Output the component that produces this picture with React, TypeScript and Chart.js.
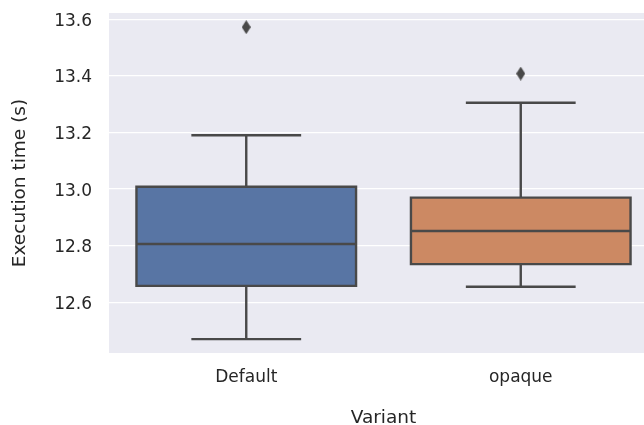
import React, { useEffect, useRef } from "react";
import { Chart, registerables } from "chart.js";

Chart.register(...registerables);

const variants = ["Default", "opaque"];
const whiskerLow = [12.47, 12.655];
const q1 = [12.658, 12.735];
const median = [12.806, 12.852];
const q3 = [13.008, 12.97];
const whiskerHigh = [13.19, 13.305];
const outliers = [
  { variant: 0, value: 13.572 },
  { variant: 1, value: 13.408 },
];
const yTicks = [12.6, 12.8, 13.0, 13.2, 13.4, 13.6];

const BOX_COLORS = ["#5875a4", "#cc8963"];
const LINE_COLOR = "#494949";
const LINE_WIDTH = 2.4;
const BOX_HALF = 0.4;
const CAP_HALF = 0.2;
const FONT = "'DejaVu Sans', sans-serif";
const TEXT = "#262626";

function makeDiamond(): HTMLCanvasElement {
  const c = document.createElement("canvas");
  c.width = 9;
  c.height = 14;
  const ctx = c.getContext("2d")!;
  ctx.fillStyle = LINE_COLOR;
  ctx.beginPath();
  ctx.moveTo(4.5, 0);
  ctx.lineTo(9, 7);
  ctx.lineTo(4.5, 14);
  ctx.lineTo(0, 7);
  ctx.closePath();
  ctx.fill();
  return c;
}

const bgPlugin = {
  id: "bg",
  beforeDraw(chart: any) {
    const { ctx, chartArea } = chart;
    ctx.save();
    ctx.fillStyle = "#eaeaf2";
    ctx.fillRect(chartArea.left, chartArea.top, chartArea.right - chartArea.left, chartArea.bottom - chartArea.top);
    ctx.restore();
  },
};

export default function App() {
  const ref = useRef<HTMLCanvasElement>(null);
  useEffect(() => {
    document.body.style.margin = "0";
    const lineData = (i: number) => {
      const c = i;
      const gap = { x: c, y: null };
      return [
        { x: c, y: whiskerLow[i] }, { x: c, y: q1[i] }, gap,
        { x: c, y: q3[i] }, { x: c, y: whiskerHigh[i] }, gap,
        { x: c - CAP_HALF, y: whiskerLow[i] }, { x: c + CAP_HALF, y: whiskerLow[i] }, gap,
        { x: c - CAP_HALF, y: whiskerHigh[i] }, { x: c + CAP_HALF, y: whiskerHigh[i] }, gap,
        { x: c - BOX_HALF, y: median[i] }, { x: c + BOX_HALF, y: median[i] }, gap,
        { x: c - BOX_HALF, y: q1[i] }, { x: c + BOX_HALF, y: q1[i] },
        { x: c + BOX_HALF, y: q3[i] }, { x: c - BOX_HALF, y: q3[i] },
        { x: c - BOX_HALF, y: q1[i] }, { x: c + BOX_HALF, y: q1[i] },
      ];
    };
    const diamond = makeDiamond();
    const chart = new Chart(ref.current!, {
      type: "bar",
      data: {
        datasets: [
          {
            type: "bar",
            data: variants.map((_, i) => ({ x: i, y: [q1[i], q3[i]] })) as any,
            backgroundColor: BOX_COLORS,
            borderWidth: 0,
            categoryPercentage: 1,
            barPercentage: 2 * BOX_HALF,
            order: 3,
          } as any,
          ...variants.map((_, i) => ({
            type: "line",
            data: lineData(i),
            borderColor: LINE_COLOR,
            borderWidth: LINE_WIDTH,
            borderJoinStyle: "miter",
            pointRadius: 0,
            spanGaps: false,
            fill: false,
            order: 2,
          })) as any,
          {
            type: "line",
            data: outliers.map((o) => ({ x: o.variant, y: o.value })),
            showLine: false,
            pointStyle: diamond,
            pointRadius: 5,
            order: 1,
          } as any,
        ],
      },
      options: {
        responsive: false,
        animation: false,
        layout: { padding: { top: 13, right: 2, left: 0, bottom: 0 } },
        plugins: { legend: { display: false }, tooltip: { enabled: false } },
        scales: {
          x: {
            type: "linear",
            min: -0.5,
            max: 1.5,
            offset: false,
            grid: { display: false, drawTicks: false },
            border: { display: false },
            afterBuildTicks: (s: any) => {
              s.ticks = variants.map((_, i) => ({ value: i }));
            },
            afterFit: (s: any) => {
              s.height = 72;
              s.paddingLeft = 0;
              s.paddingRight = 0;
            },
            ticks: {
              padding: 14,
              color: TEXT,
              font: { family: FONT, size: 17 },
              callback: (v: any) => variants[v as number],
            },
            title: {
              display: true,
              text: "Variant",
              color: TEXT,
              font: { family: FONT, size: 18.5, lineHeight: 1 },
              padding: { top: 0, bottom: -2 },
            },
          },
          y: {
            type: "linear",
            min: 12.421,
            max: 13.622,
            grid: { color: "#ffffff", lineWidth: 1.3, drawTicks: false },
            border: { display: false },
            afterBuildTicks: (s: any) => {
              s.ticks = yTicks.map((v) => ({ value: v }));
            },
            afterFit: (s: any) => {
              s.width = 109;
              s.paddingTop = 0;
              s.paddingBottom = 0;
            },
            ticks: {
              padding: 17,
              labelOffset: 2,
              color: TEXT,
              font: { family: FONT, size: 17 },
              callback: (v: any) => Number(v).toFixed(1),
            },
            title: {
              display: true,
              text: "Execution time (s)",
              color: TEXT,
              font: { family: FONT, size: 18.5, lineHeight: 1.2 },
              padding: { top: 9, bottom: 0 },
            },
          },
        },
      },
      plugins: [bgPlugin],
    });
    return () => chart.destroy();
  }, []);
  return (
    <div style={{ position: "absolute", left: 0, top: 0, width: 644, height: 425, overflow: "hidden" }}>
      <canvas ref={ref} width={664} height={425} style={{ display: "block" }} />
    </div>
  );
}
